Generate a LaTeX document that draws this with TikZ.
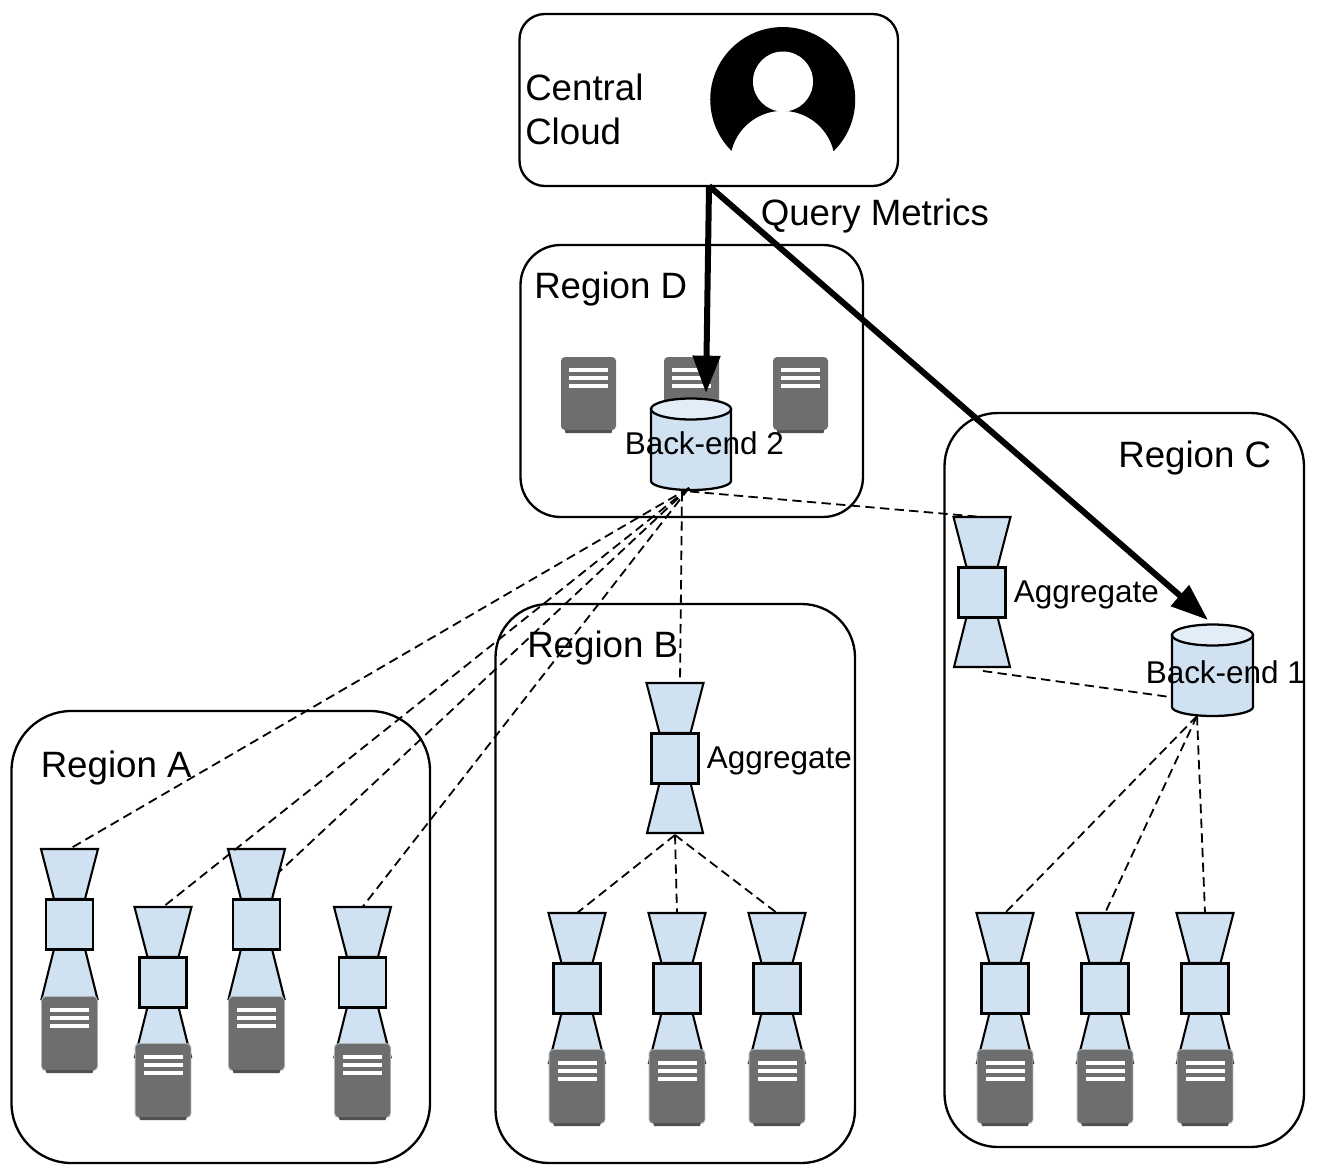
\documentclass[tikz,border=0pt]{standalone}
\usepackage{fontspec}
\setmainfont{Liberation Sans}
\usetikzlibrary{arrows.meta}
\definecolor{fillblue}{HTML}{D0E1F2}
\definecolor{fillpale}{HTML}{E3EDF7}
\definecolor{srv}{HTML}{6D6E70}
\definecolor{srvdark}{HTML}{4F5052}
\definecolor{srvedge}{HTML}{B4B5B6}
\tikzset{
  x=0.75pt,y=0.75pt,
  regionbox/.style={draw=black,line width=1.75pt,fill=none},
  aggshape/.style={draw=black,line width=1.55pt,fill=fillblue,line join=miter},
  dashlink/.style={draw=black,line width=1.35pt,dash pattern=on 7pt off 4pt},
  bigarrow/.style={draw=black,line width=4.5pt,-{Triangle[length=28pt,width=20pt]}},
  bigtext/.style={font=\fontsize{27.5pt}{32pt}\selectfont,inner sep=0pt,anchor=base west,text=black},
  smalltext/.style={font=\fontsize{23.6pt}{28pt}\selectfont,inner sep=0pt,anchor=base west,text=black},
}
% #1 name, #2 centre x, #3 top y (pixels)
\newcommand{\aggmark}[3]{%
  \fill[fillblue] (#2-28.5,-#3) -- (#2+28.5,-#3) -- (#2+15.5,-#3-50) -- (#2+15.5,-#3-100) -- (#2+28,-#3-150) -- (#2-28,-#3-150) -- (#2-15.5,-#3-100) -- (#2-15.5,-#3-50) -- cycle;
  \draw[aggshape] (#2-28.5,-#3) -- (#2+28.5,-#3) -- (#2+15.5,-#3-50) -- (#2-15.5,-#3-50) -- cycle;
  \draw[aggshape] (#2-15.5,-#3-100) -- (#2+15.5,-#3-100) -- (#2+28,-#3-150) -- (#2-28,-#3-150) -- cycle;
  \draw[aggshape] (#2-23.5,-#3-50.5) rectangle (#2+23.5,-#3-100.5);
  \coordinate (#1t) at (#2,-#3);
  \coordinate (#1b) at (#2,-#3-152);
}
% #1 left x, #2 top y
\newcommand{\srvmark}[2]{%
  \fill[srvdark] (#1+3,-#2-70) -- (#1+52,-#2-70) -- (#1+50.5,-#2-76) -- (#1+4.5,-#2-76) -- cycle;
  \fill[srv,rounded corners=3pt] (#1,-#2) rectangle (#1+55,-#2-73);
  \fill[white] (#1+8,-#2-11) rectangle (#1+47,-#2-15);
  \fill[white] (#1+8,-#2-19) rectangle (#1+47,-#2-23);
  \fill[white] (#1+8,-#2-27) rectangle (#1+47,-#2-31);
}
% the same server with the pale rim it has under an aggregator
\newcommand{\srvrim}[2]{%
  \fill[srvedge,rounded corners=3pt] (#1-0.8,-#2+0.8) rectangle (#1+55.8,-#2-73.8);
  \srvmark{#1}{#2}
}
% #1 name, #2 left x, #3 top y, #4 right x, #5 bottom y
\newcommand{\dbmark}[5]{%
  \path[draw=black,line width=1.7pt,fill=fillblue] (#2,-#3-11) -- (#2,-#5+9) arc[start angle=180,end angle=360,x radius={(#4-#2)/2},y radius=9] -- (#4,-#3-11) -- cycle;
  \path[draw=black,line width=1.7pt,fill=fillpale] ({(#2+#4)/2},-#3-11) ellipse[x radius={(#4-#2)/2},y radius=10.5];
  \coordinate (#1t) at ({(#2+#4)/2},-#3);
  \coordinate (#1b) at ({(#2+#4)/2},-#5);
}
\begin{document}
\begin{tikzpicture}
\useasboundingbox (0,0) rectangle (1318,-1174);
% region boxes
\draw[regionbox,rounded corners=19pt] (519.5,-14) rectangle (898,-186);
\draw[regionbox,rounded corners=30pt] (520.5,-245) rectangle (863,-517);
\draw[regionbox,rounded corners=45pt] (11.5,-711) rectangle (430,-1163);
\draw[regionbox,rounded corners=40pt] (495.5,-604) rectangle (855,-1163);
\draw[regionbox,rounded corners=40pt] (944.5,-413) rectangle (1304,-1147);
\coordinate (centralbot) at (709,-186);
% person icon
\fill[black] (834,-150.8) arc[start angle=-45,end angle=225,radius=72.5]
  arc[start angle=166.2,end angle=13.8,radius=52.5] -- cycle;
\fill[white] (783,-81.5) circle[radius=30];
% region D servers
\srvmark{561}{357}
\srvmark{664}{357}
\srvmark{773}{357}
% aggregators and their servers
\aggmark{aone}{69.5}{849}   \srvrim{42}{997}
\aggmark{atwo}{163}{907}    \srvrim{135.5}{1044}
\aggmark{athree}{256.5}{849}\srvrim{229}{997}
\aggmark{afour}{362.5}{907} \srvrim{335}{1044}
\aggmark{bagg}{675}{683}
\aggmark{bone}{577}{913}    \srvrim{549.5}{1050}
\aggmark{btwo}{677}{913}    \srvrim{649.5}{1050}
\aggmark{bthree}{777}{913}  \srvrim{749.5}{1050}
\aggmark{cagg}{982}{517}
\aggmark{cone}{1005}{913}   \srvrim{977.5}{1050}
\aggmark{ctwo}{1105}{913}   \srvrim{1077.5}{1050}
\aggmark{cthree}{1205}{913} \srvrim{1177.5}{1050}
% cylinders
\dbmark{bed}{651}{398}{731}{490}
\dbmark{bec}{1172}{624}{1253}{716}
% dashed connectors
\coordinate (dfan) at (689,-488);
\coordinate (dfanb) at (682,-492);
\coordinate (dfanc) at (690,-491.5);
\coordinate (cfan) at (1197,-716);
\coordinate (cside) at (1170,-697);
\coordinate (caggfoot) at (983,-671);
\coordinate (baggtop) at (680,-683);
\coordinate (caggtop) at (982,-517);
\coordinate (athreeside) at (278,-873);
\draw[dashlink] (dfan) -- (aonet);
\draw[dashlink] (dfan) -- (atwot);
\draw[dashlink] (dfan) -- (athreeside);
\draw[dashlink] (dfan) -- (afourt);
\draw[dashlink] (dfanb) -- (baggtop);
\draw[dashlink] (dfanc) -- (caggtop);
\draw[dashlink] (caggfoot) -- (cside);
\draw[dashlink] (cfan) -- (conet);
\draw[dashlink] (cfan) -- (ctwot);
\draw[dashlink] (cfan) -- (cthreet);
\draw[dashlink] (baggb) -- (bonet);
\draw[dashlink] (baggb) -- (btwot);
\draw[dashlink] (baggb) -- (bthreet);
% query arrows
\coordinate (tipd) at (706,-393);
\coordinate (tipc) at (1208,-620);
\draw[bigarrow] (centralbot) -- (tipd);
\draw[bigarrow] (centralbot) -- (tipc);
% labels
\node[bigtext] (lblcentral) at (525,-100.7) {Central};
\node[bigtext] (lblcloud) at (525,-144) {Cloud};
\node[bigtext] (lblquery) at (760.5,-225) {Query Metrics};
\node[bigtext] (lbld) at (534,-298) {Region D};
\node[bigtext] (lblc) at (1118,-467) {Region C};
\node[bigtext] (lblb) at (527,-657) {Region B};
\node[bigtext] (lbla) at (40.5,-777) {Region A};
\node[smalltext] (lblbe2) at (624.5,-454) {Back-end 2};
\node[smalltext] (lblbe1) at (1145.5,-683) {Back-end 1};
\node[smalltext] (lblagc) at (1013.5,-602) {Aggregate};
\node[smalltext] (lblagb) at (706.5,-768) {Aggregate};
\end{tikzpicture}
\end{document}
